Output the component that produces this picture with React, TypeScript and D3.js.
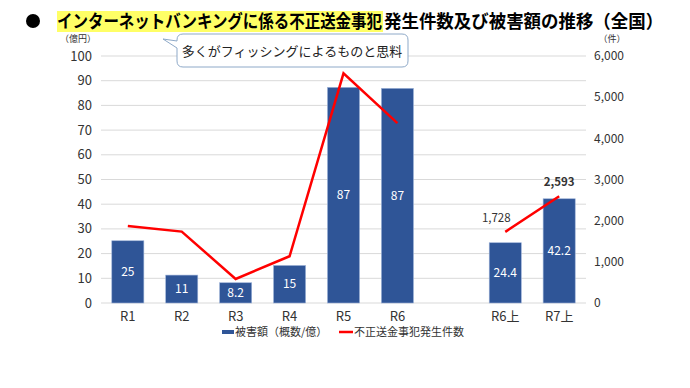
import React from "react";
import * as d3 from "d3";

const categories = ["R1", "R2", "R3", "R4", "R5", "R6", "", "R6上", "R7上"];
const damage = [25.2, 11.3, 8.2, 15.2, 87.3, 86.9, null, 24.4, 42.2];
const damageLabels = ["25", "11", "8.2", "15", "87", "87", "", "24.4", "42.2"];
const cases = [1872, 1734, 584, 1136, 5578, 4369, null, 1728, 2593];
const caseLabels = ["", "", "", "", "", "", "", "1,728", "2,593"];
const leftTicks = [0, 10, 20, 30, 40, 50, 60, 70, 80, 90, 100];
const rightTicks = [0, 1000, 2000, 3000, 4000, 5000, 6000];
const titleHighlight = "インターネットバンキングに係る不正送金事犯";
const titleRest = "発生件数及び被害額の推移（全国）";
const calloutText = "多くがフィッシングによるものと思料";
const legendBar = "被害額（概数/億）";
const legendLine = "不正送金事犯発生件数";

const FONT = "'Noto Sans CJK JP', 'Noto Sans', sans-serif";

export default function App() {
  const W = 690, H = 388;
  const x = d3.scaleBand<string>().domain(categories.map((c, i) => i + "")).range([101, 586]).paddingInner(0.405).paddingOuter(0.2);
  const yL = d3.scaleLinear().domain([0, 100]).range([303, 56]);
  const yR = d3.scaleLinear().domain([0, 6000]).range([303, 56]);
  const cx = (i: number) => (x(i + "") as number) + x.bandwidth() / 2;

  const pts = cases.map((v, i) => (v == null ? null : [cx(i), yR(v)] as [number, number]));
  const line = d3.line<[number, number] | null>().defined(d => d != null).x(d => d![0]).y(d => d![1]);

  const fmt = d3.format(",");

  return (
    <svg width={W} height={H} style={{ position: "absolute", left: 0, top: 0, background: "#fff" }} fontFamily={FONT}>
      {/* Title */}
      <circle cx={33} cy={21} r={7} fill="#000" />
      <rect x={57} y={11} width={326} height={21} fill="#FFFF66" />
      <text transform="translate(57,28) scale(0.86,1)" fontSize={18} fontWeight="bold" fill="#000">{titleHighlight}</text>
      <text transform="translate(384,28) scale(0.97,1)" fontSize={18} fontWeight="bold" fill="#000">{titleRest}</text>

      {/* Gridlines */}
      {leftTicks.map(t => (
        <line key={t} x1={101} x2={586} y1={yL(t)} y2={yL(t)} stroke="#D9D9D9" strokeWidth={1} />
      ))}

      {/* Left axis labels */}
      <text x={78} y={42} fontSize={9} textAnchor="middle" fill="#333">（億円）</text>
      {leftTicks.map(t => (
        <text key={t} x={92} y={yL(t)} dy="0.35em" fontSize={13} textAnchor="end" fill="#333">{t}</text>
      ))}

      {/* Right axis labels */}
      <text x={612} y={42} fontSize={9} textAnchor="middle" fill="#333">（件）</text>
      {rightTicks.map(t => (
        <text key={t} x={594} y={yR(t)} dy="0.35em" fontSize={12} textAnchor="start" fill="#333">{fmt(t)}</text>
      ))}

      {/* Bars */}
      {damage.map((v, i) => v == null ? null : (
        <g key={i}>
          <rect x={x(i + "")} y={yL(v)} width={x.bandwidth()} height={yL(0) - yL(v)} fill="#2F5597" stroke="#9DB3D8" strokeWidth={0.6} />
          <text x={cx(i)} y={(yL(v) + yL(0)) / 2} dy="0.35em" fontSize={12} textAnchor="middle" fill="#fff">{damageLabels[i]}</text>
        </g>
      ))}

      {/* Line */}
      <path d={line(pts) || ""} fill="none" stroke="#FF0000" strokeWidth={2.5} strokeLinejoin="miter" />
      {cases.map((v, i) => v == null || !caseLabels[i] ? null : (
        <text key={i} x={cx(i) - (i === 7 ? 9 : 0)} y={yR(v) - 10} fontSize={11.5} fontWeight={i === 8 ? "bold" : "normal"} textAnchor="middle" fill="#333">{caseLabels[i]}</text>
      ))}

      {/* X labels */}
      {categories.map((c, i) => (
        <text key={i} x={cx(i)} y={316} dy="0.35em" fontSize={13} textAnchor="middle" fill="#333">{c}</text>
      ))}

      {/* Legend */}
      <rect x={222} y={330} width={12} height={4} fill="#2F5597" />
      <text x={235} y={332} dy="0.35em" fontSize={11} fill="#333">{legendBar}</text>
      <line x1={339} x2={353} y1={332} y2={332} stroke="#FF0000" strokeWidth={2.5} />
      <text x={354} y={332} dy="0.35em" fontSize={11} fill="#333">{legendLine}</text>

      {/* Callout */}
      <path d="M183,34 H402 Q408,34 408,40 V61 Q408,67 402,67 H183 Q177,67 177,61 V48 L163,39 L177,41 V40 Q177,34 183,34 Z" fill="#fff" stroke="#8EA9C8" strokeWidth={1} />
      <text x={292} y={51} dy="0.35em" fontSize={13} textAnchor="middle" fill="#222">{calloutText}</text>
    </svg>
  );
}
